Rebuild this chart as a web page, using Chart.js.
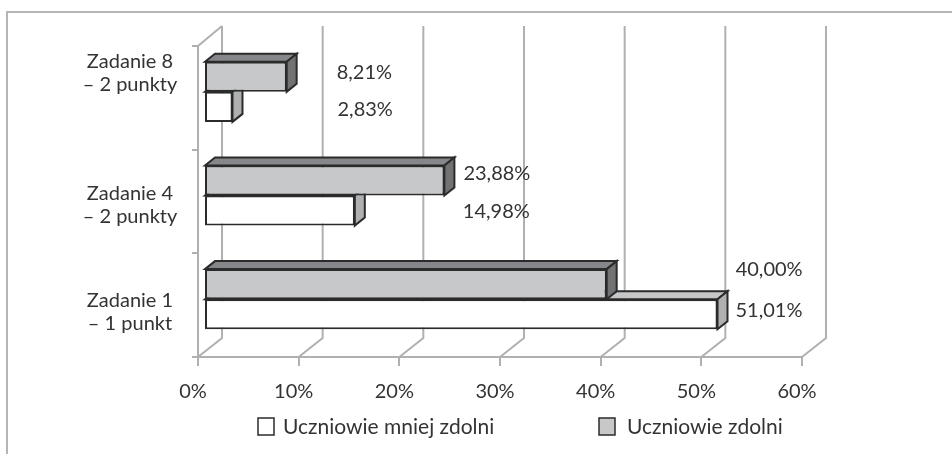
<!DOCTYPE html>
<html>
<head>
<meta charset="utf-8">
<style>
    html, body { margin: 0; padding: 0; background: #fff; }
    #wrap { position: relative; width: 952px; height: 454px; overflow: hidden; }
    #frame { position: absolute; left: 6px; top: 11px; right: 0; bottom: 0; border-top: 2px solid #b5b5b5; border-left: 2px solid #b5b5b5; }
    #chart { position: absolute; left: 0; top: 0; display: block; }
</style>
</head>
<body>
<div id="wrap">
    <div id="frame"></div>
    <canvas id="chart" width="952" height="454"></canvas>
</div>
<script src="https://cdn.jsdelivr.net/npm/chart.js@4"></script>
<script>
// top to bottom, as on the picture
const categories = [['Zadanie 8', '– 2 punkty'], ['Zadanie 4', '– 2 punkty'], ['Zadanie 1', '– 1 punkt']];
const weakLabel = 'Uczniowie mniej zdolni';
const strongLabel = 'Uczniowie zdolni';
const weakValues = [2.83, 14.98, 51.01];
const strongValues = [8.21, 23.88, 40.00];
const xTicks = [0, 10, 20, 30, 40, 50, 60];

// the value labels were moved by hand in the original, so each one has a nudge
const weakNudge = [[105, 3], [108, 1], [18, -4]];
const strongNudge = [[50, -4], [19, -7], [129, -15]];
const categoryNudge = [-25, 4, 7];

const TEXT = '#333333';
const WALL = '#aeb0b2';
const OUTLINE = '#2b2b2b';
const WHITE_FILL = '#ffffff';
const GREY_FILL = '#c6c8ca';
const BAR_SHIFT_X = 6, BAR_SHIFT_Y = -6;
const BAR_DEPTH_X = 10, BAR_DEPTH_Y = 8;
const WALL_DEPTH_X = 24, WALL_DEPTH_Y = 19;

function face(ctx, pts, fill) {
    ctx.beginPath();
    pts.forEach((p, i) => i ? ctx.lineTo(p[0], p[1]) : ctx.moveTo(p[0], p[1]));
    ctx.closePath();
    ctx.fillStyle = fill;
    ctx.fill();
    ctx.lineWidth = 2;
    ctx.strokeStyle = OUTLINE;
    ctx.stroke();
}

function legendItem(ctx, boxX, textX, fill, label) {
    ctx.fillStyle = fill;
    ctx.fillRect(boxX, 418, 16, 17);
    ctx.lineWidth = 1.5;
    ctx.strokeStyle = OUTLINE;
    ctx.strokeRect(boxX, 418, 16, 17);
    ctx.fillStyle = TEXT;
    ctx.fillText(label, textX, 427);
}

const fake3d = {
    id: 'fake3d',
    beforeDatasetsDraw(chart) {
        const ctx = chart.ctx;
        const { left, top, bottom } = chart.chartArea;
        const x = chart.scales.x;

        // back wall, floor and side wall lines
        ctx.save();
        ctx.strokeStyle = WALL;
        ctx.lineWidth = 2;
        x.ticks.forEach(t => {
            const px = x.getPixelForValue(t.value);
            ctx.beginPath();
            ctx.moveTo(px, bottom);
            ctx.lineTo(px + WALL_DEPTH_X, bottom - WALL_DEPTH_Y);
            ctx.lineTo(px + WALL_DEPTH_X, top - 20);
            ctx.stroke();
        });
        ctx.beginPath();
        ctx.moveTo(left, top);
        ctx.lineTo(left + WALL_DEPTH_X, top - 20);
        ctx.stroke();
        ctx.restore();

        // side and top faces, lower series first
        ctx.save();
        ctx.translate(BAR_SHIFT_X, BAR_SHIFT_Y);
        [[1, '#c5c7c9', '#aeb0b2'], [0, '#85878a', '#707274']].forEach(([index, topFill, sideFill]) => {
            chart.getDatasetMeta(index).data.forEach(bar => {
                const t = bar.y - bar.height / 2, b = bar.y + bar.height / 2;
                face(ctx, [[bar.base, t], [bar.base + BAR_DEPTH_X, t - BAR_DEPTH_Y], [bar.x + BAR_DEPTH_X, t - BAR_DEPTH_Y], [bar.x, t]], topFill);
                face(ctx, [[bar.x, t], [bar.x + BAR_DEPTH_X, t - BAR_DEPTH_Y], [bar.x + BAR_DEPTH_X, b - BAR_DEPTH_Y], [bar.x, b]], sideFill);
            });
        });
        // native bars are drawn next, in the same shifted space
    },
    afterDatasetsDraw(chart) {
        const ctx = chart.ctx;
        ctx.restore();

        ctx.save();
        ctx.font = '20px Lato';
        ctx.fillStyle = TEXT;
        ctx.textBaseline = 'middle';
        ctx.textAlign = 'left';
        [[1, weakValues, weakNudge], [0, strongValues, strongNudge]].forEach(([index, values, nudge]) => {
            chart.getDatasetMeta(index).data.forEach((bar, i) => {
                const text = values[i].toFixed(2).replace('.', ',') + '%';
                ctx.fillText(text, bar.x + BAR_SHIFT_X + nudge[i][0], bar.y + BAR_SHIFT_Y + nudge[i][1]);
            });
        });

        // category labels
        ctx.textAlign = 'center';
        const y = chart.scales.y;
        categories.forEach((lines, i) => {
            const cy = y.getPixelForValue(i) + categoryNudge[i];
            lines.forEach((line, n) => ctx.fillText(line, 130, cy + (n - 0.5) * 23));
        });

        // legend, its gaps do not fit the native one
        ctx.textAlign = 'left';
        ctx.font = '21px Lato';
        legendItem(ctx, 258, 283, WHITE_FILL, weakLabel);
        legendItem(ctx, 599, 627, GREY_FILL, strongLabel);
        ctx.restore();
    }
};

new Chart(document.getElementById('chart').getContext('2d'), {
    type: 'bar',
    data: {
        labels: categories,
        datasets: [
            { label: strongLabel, data: strongValues, backgroundColor: GREY_FILL, borderColor: OUTLINE, borderWidth: 2, borderSkipped: false, clip: false },
            { label: weakLabel, data: weakValues, backgroundColor: WHITE_FILL, borderColor: OUTLINE, borderWidth: 2, borderSkipped: false, clip: false }
        ]
    },
    options: {
        indexAxis: 'y',
        responsive: false,
        animation: false,
        categoryPercentage: 0.58,
        barPercentage: 1,
        layout: { padding: { left: 192, right: 150, top: 46, bottom: 0 } },
        scales: {
            x: {
                min: 0,
                max: 60,
                afterBuildTicks(scale) { scale.ticks = xTicks.map(v => ({ value: v })); },
                afterFit(scale) { scale.height = 97; },
                grid: { drawOnChartArea: false, color: WALL, lineWidth: 2, tickLength: 9 },
                border: { color: WALL, width: 2 },
                ticks: {
                    font: { family: 'Lato', size: 20 },
                    color: TEXT,
                    padding: 14,
                    labelOffset: -5,
                    maxRotation: 0,
                    callback: v => v + '%'
                }
            },
            y: {
                grid: { drawOnChartArea: false, color: WALL, lineWidth: 2, tickLength: 6 },
                border: { color: WALL, width: 2 },
                ticks: { display: false }
            }
        },
        plugins: {
            tooltip: { enabled: false },
            legend: { display: false }
        }
    },
    plugins: [fake3d]
});
</script>
</body>
</html>
